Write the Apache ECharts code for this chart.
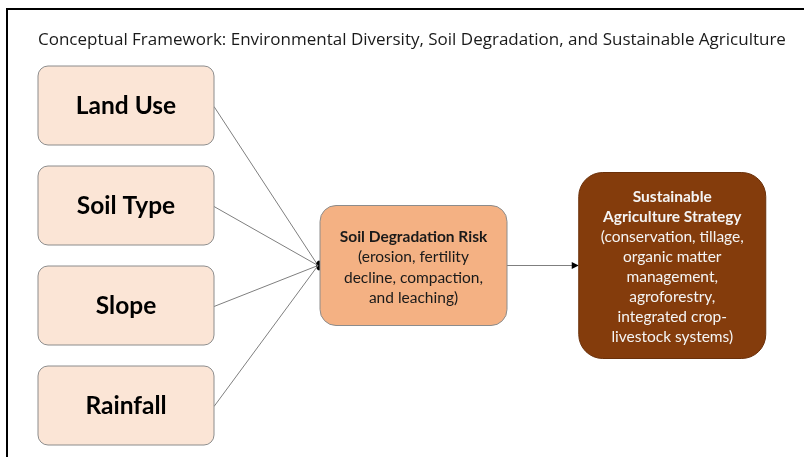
<!DOCTYPE html>
<html>
<head>
<meta charset="utf-8">
<script src="https://cdn.jsdelivr.net/npm/echarts@6/dist/echarts.min.js"></script>
<style>
  html, body { margin: 0; padding: 0; background: #fff; }
  #main { width: 804px; height: 457px; }
</style>
</head>
<body>
<div id="main"></div>
<script>
  // 图表内容
  const titleText = 'Conceptual Framework: Environmental Diversity, Soil Degradation, and Sustainable Agriculture'
  const factors = ['Land Use', 'Soil Type', 'Slope', 'Rainfall']
  const riskTitle = ['Soil Degradation Risk']
  const riskDetails = ['(erosion, fertility', 'decline, compaction,', 'and leaching)']
  const strategyTitle = ['Sustainable', 'Agriculture Strategy']
  const strategyDetails = ['(conservation, tillage,', 'organic matter', 'management,', 'agroforestry,', 'integrated crop-', 'livestock systems)']

  // 布局：阶段(列) + 行
  const nodes = [
    ...factors.map((name, i) => ({ kind: 'factor', stage: 0, row: i, lines: [['b', name]] })),
    { kind: 'risk', stage: 1, row: 1.6, lines: [...riskTitle.map(t => ['b', t]), ...riskDetails.map(t => ['n', t])] },
    { kind: 'strategy', stage: 1.9, row: 1.6, lines: [...strategyTitle.map(t => ['b', t]), ...strategyDetails.map(t => ['n', t])] }
  ]

  const boxStyle = {
    factor: { w: 176, h: 79, r: 10, fill: '#FBE5D6', stroke: '#8c8c8c', color: '#000', bSize: 24.5, nSize: 24.5, lh: 28, dy: 1 },
    risk: { w: 187, h: 120, r: 16, fill: '#F4B183', stroke: '#8c8c8c', color: '#1a1a1a', bSize: 15.5, nSize: 15.5, lh: 20.3, dy: 2 },
    strategy: { w: 187, h: 186, r: 24, fill: '#843C0C', stroke: '#6a300a', color: '#f4f4f4', bSize: 15.5, nSize: 15.5, lh: 20, dy: 1 }
  }

  const chart = echarts.init(document.getElementById('main'))
  const font = 'Lato, "Open Sans", sans-serif'

  chart.setOption({
    animation: false,
    title: {
      text: titleText,
      left: 33,
      top: 27,
      textStyle: { fontFamily: '"Open Sans", sans-serif', fontSize: 17, fontWeight: 'normal', color: '#1a1a1a' }
    },
    graphic: [
      { type: 'line', shape: { x1: 7, y1: 9, x2: 804, y2: 9 }, style: { stroke: '#000', lineWidth: 2 } },
      { type: 'line', shape: { x1: 7, y1: 8, x2: 7, y2: 457 }, style: { stroke: '#000', lineWidth: 2 } }
    ],
    grid: { left: 126, right: 390.5, top: 105.5, bottom: 51.5 },
    xAxis: { type: 'value', min: 0, max: 1, show: false },
    yAxis: { type: 'value', min: 0, max: 3, inverse: true, show: false },
    series: [
      {
        // 连线
        type: 'custom',
        clip: false,
        silent: true,
        data: factors.map((f, i) => [0, i]),
        renderItem: function(params, api) {
          const from = api.coord([api.value(0), api.value(1)])
          const risk = nodes[factors.length]
          const rc = api.coord([risk.stage, risk.row])
          const jx = rc[0] - boxStyle.risk.w / 2 - 2
          const children = [{
            type: 'line',
            shape: { x1: from[0] + boxStyle.factor.w / 2, y1: from[1] + 1, x2: jx, y2: rc[1] },
            style: { stroke: '#7f7f7f', lineWidth: 1 }
          }]
          if (params.dataIndex === 0) {
            const strat = nodes[factors.length + 1]
            const sc = api.coord([strat.stage, strat.row])
            const ax1 = rc[0] + boxStyle.risk.w / 2
            const ax2 = sc[0] - boxStyle.strategy.w / 2
            children.push(
              { type: 'ellipse', shape: { cx: jx + 1, cy: rc[1], rx: 3, ry: 5 }, style: { fill: '#000' } },
              { type: 'line', shape: { x1: ax1, y1: rc[1], x2: ax2 - 5, y2: rc[1] }, style: { stroke: '#7f7f7f', lineWidth: 1 } },
              { type: 'polygon', shape: { points: [[ax2, rc[1]], [ax2 - 7, rc[1] - 3.5], [ax2 - 7, rc[1] + 3.5]] }, style: { fill: '#000' } }
            )
          }
          return { type: 'group', children }
        }
      },
      {
        // 方框
        type: 'custom',
        clip: false,
        silent: true,
        data: nodes.map((n, i) => [n.stage, n.row, i]),
        renderItem: function(params, api) {
          const n = nodes[api.value(2)]
          const c = api.coord([api.value(0), api.value(1)])
          const s = boxStyle[n.kind]
          const text = n.lines.map(l => `{${l[0]}|${l[1]}}`).join('\n')
          return {
            type: 'group',
            children: [
              {
                type: 'rect',
                shape: { x: c[0] - s.w / 2, y: c[1] - s.h / 2, width: s.w, height: s.h, r: s.r },
                style: { fill: s.fill, stroke: s.stroke, lineWidth: 1 }
              },
              {
                type: 'text',
                x: c[0],
                y: c[1] + s.dy,
                style: {
                  text,
                  fill: s.color,
                  align: 'center',
                  verticalAlign: 'middle',
                  rich: {
                    b: { fontFamily: font, fontSize: s.bSize, fontWeight: 'bold', fill: s.color, lineHeight: s.lh, align: 'center' },
                    n: { fontFamily: font, fontSize: s.nSize, fill: s.color, lineHeight: s.lh, align: 'center' }
                  }
                }
              }
            ]
          }
        }
      }
    ]
  })
</script>
</body>
</html>
